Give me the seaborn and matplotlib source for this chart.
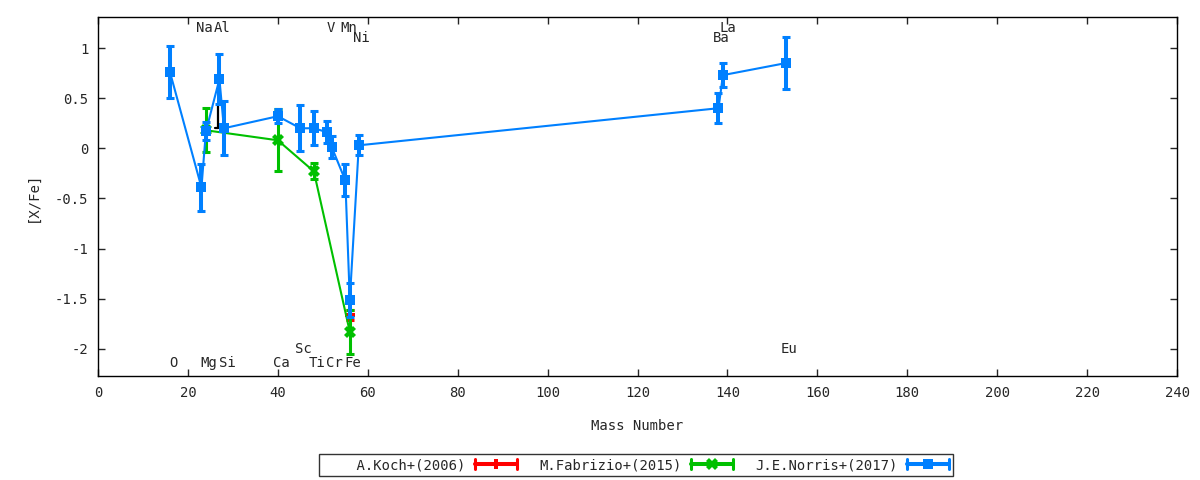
import matplotlib
matplotlib.use("Agg")
import matplotlib.pyplot as plt
import seaborn as sns
import pandas as pd
from matplotlib.lines import Line2D
from matplotlib.legend_handler import HandlerBase

# ---------------- data ----------------
koch_mass = [56]
koch_val = [-1.66]
koch_err = [0.05]

fab_mass = [24, 40, 48, 56]
fab_val = [0.18, 0.08, -0.23, -1.83]
fab_err = [0.22, 0.31, 0.08, 0.22]

nor_elem = ["O", "Na", "Mg", "Al", "Si", "Ca", "Sc", "Ti", "V", "Cr", "Mn", "Fe", "Ni", "Ba", "La", "Eu"]
nor_mass = [16, 23, 24, 27, 28, 40, 45, 48, 51, 52, 55, 56, 58, 138, 139, 153]
nor_val = [0.76, -0.39, 0.17, 0.69, 0.20, 0.32, 0.20, 0.20, 0.16, 0.01, -0.32, -1.51, 0.03, 0.40, 0.73, 0.85]
nor_err = [0.26, 0.23, 0.09, 0.25, 0.27, 0.07, 0.23, 0.17, 0.11, 0.11, 0.16, 0.17, 0.10, 0.15, 0.12, 0.26]

# upper-limit style black mark near Al
lim_mass = [26.7]
lim_top = [0.44]
lim_bot = [0.20]

label_names = ["Na", "Al", "V", "Mn", "La", "Ni", "Ba",
               "O", "Mg", "Si", "Ca", "Ti", "Cr", "Fe", "Sc", "Eu"]
label_mass = [23, 27, 51, 55, 139.5, 58, 138,
              16, 24, 28, 40, 48, 52, 56, 45, 153]
label_y = [1.2, 1.2, 1.2, 1.2, 1.2, 1.1, 1.1,
           -2.14, -2.14, -2.14, -2.14, -2.14, -2.14, -2.14, -2.0, -2.0]

series_names = ["    A.Koch+(2006)", "M.Fabrizio+(2015)", "J.E.Norris+(2017)"]
colors = ["#ff0000", "#00c000", "#0080ff"]

xticks = list(range(0, 241, 20))
yticks = [-2, -1.5, -1, -0.5, 0, 0.5, 1]
ytick_labels = ["-2", "-1.5", "-1", "-0.5", "0", "0.5", "1"]

# ---------------- style ----------------
sns.set_style("ticks")
plt.rcParams["font.family"] = ["DejaVu Sans Mono", "DejaVu Sans"]
plt.rcParams["font.size"] = 8.5

fig = plt.figure(figsize=(12, 4.8), dpi=100)
ax = fig.add_axes([0.0817, 0.2167, 0.8992, 0.748])

datasets = [
    (koch_mass, koch_val, koch_err, "P", 7, 2.2),
    (fab_mass, fab_val, fab_err, "X", 8, 2.2),
    (nor_mass, nor_val, nor_err, "s", 7.5, 2.9),
]

for i, (m, v, e, mk, ms, elw) in enumerate(datasets):
    df = pd.DataFrame({"mass": m, "val": v})
    ax.errorbar(m, v, yerr=e, fmt="none", ecolor=colors[i], elinewidth=elw,
                capsize=3, capthick=2.2, zorder=2 + i)
    sns.lineplot(data=df, x="mass", y="val", sort=False, estimator=None,
                 color=colors[i], linewidth=1.5, marker=mk, markersize=ms,
                 markeredgewidth=0, ax=ax, zorder=2 + i, legend=False)

# black limit mark
for xm, yt, yb in zip(lim_mass, lim_top, lim_bot):
    ax.plot([xm, xm], [yt, yb], color="black", lw=1.6, zorder=3.5)
    ax.plot([xm, xm - 0.7], [yb, yb], color="black", lw=1.6, zorder=3.5)

for name, m, y in zip(label_names, label_mass, label_y):
    ax.annotate(name, (m, y), xytext=(3, 0), textcoords="offset pixels",
                ha="center", va="center", fontsize=10)

ax.set_xlim(0, 240)
ax.set_ylim(-2.27, 1.31)
ax.set_xticks(xticks)
ax.set_yticks(yticks)
ax.set_yticklabels(ytick_labels)
ax.tick_params(direction="in", top=True, right=True, length=5, width=1,
               labelsize=10, pad=7)
for s in ax.spines.values():
    s.set_linewidth(1)
    s.set_color("black")
ax.set_xlabel("Mass Number", fontsize=10, labelpad=14)
ax.set_ylabel("[X/Fe]", fontsize=10, labelpad=11)


class ErrHandler(HandlerBase):
    def __init__(self, color, marker, ms, lw):
        super().__init__()
        self.color, self.marker, self.ms, self.lw = color, marker, ms, lw

    def create_artists(self, legend, orig_handle, xdescent, ydescent,
                       width, height, fontsize, trans):
        yc = height / 2 - ydescent
        x0, x1 = -xdescent, width - xdescent
        h = 3.5
        arts = [
            Line2D([x0, x1], [yc, yc], color=self.color, lw=self.lw),
            Line2D([x0, x0], [yc - h, yc + h], color=self.color, lw=2.2),
            Line2D([x1, x1], [yc - h, yc + h], color=self.color, lw=2.2),
            Line2D([(x0 + x1) / 2], [yc], color=self.color, marker=self.marker,
                   markersize=self.ms, markeredgewidth=0, linestyle="none"),
        ]
        for a in arts:
            a.set_transform(trans)
        return arts


handles = [Line2D([], [], color=c) for c in colors]
hmap = {
    handles[0]: ErrHandler(colors[0], "P", 7, 2.9),
    handles[1]: ErrHandler(colors[1], "X", 8, 2.9),
    handles[2]: ErrHandler(colors[2], "s", 7.5, 2.9),
}
leg = fig.legend(handles, series_names, handler_map=hmap, loc="center",
                 bbox_to_anchor=(0.53, 0.031), ncol=3, markerfirst=False,
                 frameon=True, fancybox=False, edgecolor="black",
                 fontsize=10, handlelength=3.0, columnspacing=1.6,
                 handletextpad=0.7, borderpad=0.3, borderaxespad=0)
leg.get_frame().set_linewidth(1)

fig.savefig("out.png", dpi=100)
